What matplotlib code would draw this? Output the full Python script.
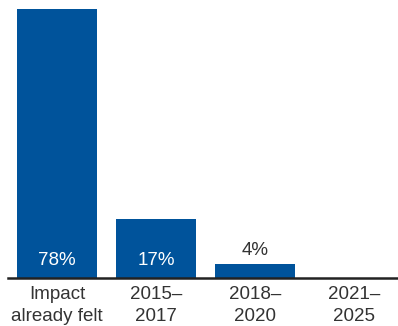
import matplotlib.pyplot as plt
from matplotlib import font_manager

categories = ["Impact\nalready felt", "2015–\n2017", "2018–\n2020", "2021–\n2025"]
values = [78, 17, 4, 0]
labels = ["78%", "17%", "4%", ""]

names = {f.name for f in font_manager.fontManager.ttflist}
font = "Liberation Sans Narrow" if "Liberation Sans Narrow" in names else "Liberation Sans"
plt.rcParams["font.family"] = [font, "DejaVu Sans"]

fig = plt.figure(figsize=(3.98, 3.26), dpi=100)
ax = fig.add_axes([0.02, 48 / 326, 0.98, 278 / 326])

x = range(len(values))
ax.bar(x, values, width=0.808, color="#00539b")

for i, (v, lab) in enumerate(zip(values, labels)):
    if not lab:
        continue
    if v > 10:
        ax.text(i, 5.0, lab, ha="center", va="center", color="white", fontsize=13.5)
    else:
        ax.text(i, v + 4.0, lab, ha="center", va="center", color="#333333", fontsize=13.5)

ax.set_xlim(-0.495, 3.44)
ax.set_ylim(0, 78 * 278 / 269)
ax.set_xticks(list(x))
ax.set_xticklabels(categories, fontsize=13.5, color="#333333", linespacing=1.35)
ax.tick_params(axis="x", length=0, pad=6)
ax.set_yticks([])
for s in ["top", "right", "left"]:
    ax.spines[s].set_visible(False)
ax.spines["bottom"].set_linewidth(1.8)
ax.spines["bottom"].set_color("#222222")

fig.savefig("out.png", dpi=100)
